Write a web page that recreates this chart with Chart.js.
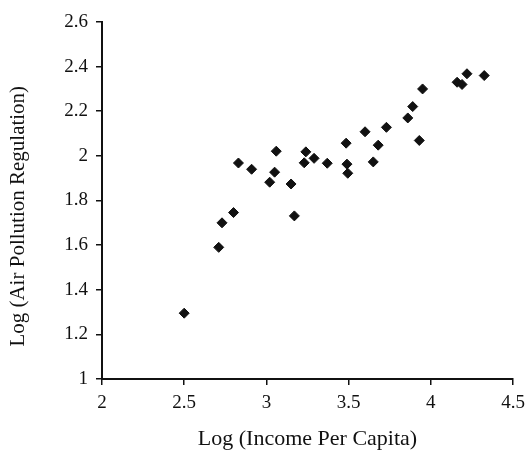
<!DOCTYPE html>
<html>
<head>
<meta charset="utf-8">
<script src="https://cdn.jsdelivr.net/npm/chart.js@4"></script>
<style>
  body { margin: 0; background: #fff; }
  canvas { display: block; }
</style>
</head>
<body>
<canvas id="chart" width="528" height="450"></canvas>
<script>
// log income per capita
const income = [2.50, 2.71, 2.73, 2.80, 2.83, 2.91, 3.02, 3.05, 3.06, 3.15,
  3.17, 3.23, 3.24, 3.29, 3.37, 3.485, 3.49, 3.495, 3.60, 3.65,
  3.68, 3.73, 3.86, 3.89, 3.93, 3.95, 4.16, 4.19, 4.22, 4.325];
// log air pollution regulation
const regulation = [1.295, 1.59, 1.70, 1.746, 1.968, 1.94, 1.882, 1.927, 2.021, 1.874,
  1.731, 1.969, 2.018, 1.989, 1.967, 2.057, 1.963, 1.922, 2.108, 1.973,
  2.048, 2.128, 2.17, 2.221, 2.069, 2.30, 2.33, 2.32, 2.368, 2.36];

const xTicks = [2, 2.5, 3, 3.5, 4, 4.5];
const yTicks = [1, 1.2, 1.4, 1.6, 1.8, 2, 2.2, 2.4, 2.6];

const ink = "#111";
const serif = "'Liberation Serif', 'Times New Roman', serif";

const points = income.map((x, i) => ({ x: x, y: regulation[i] }));

new Chart(document.getElementById("chart").getContext("2d"), {
  type: "scatter",
  data: {
    datasets: [{
      data: points,
      pointStyle: "rectRot",
      pointRadius: 5,
      backgroundColor: ink,
      borderColor: ink,
      borderWidth: 1
    }]
  },
  options: {
    responsive: false,
    animation: false,
    layout: { padding: { top: 22, right: 15, left: 0, bottom: 0 } },
    plugins: { legend: { display: false }, tooltip: { enabled: false } },
    scales: {
      x: {
        min: 2, max: 4.5,
        afterBuildTicks: s => { s.ticks = xTicks.map(v => ({ value: v })); },
        afterFit: s => { s.height = 450 - 379; s.paddingRight = 0; },
        grid: { drawOnChartArea: false, drawTicks: true, tickLength: 6, tickColor: ink, lineWidth: 1.5 },
        border: { color: ink, width: 2 },
        ticks: { color: ink, font: { family: serif, size: 19 }, padding: 7, maxRotation: 0,
          callback: v => String(v) },
        title: { display: true, text: "Log (Income Per Capita)", color: ink,
          font: { family: serif, size: 22, lineHeight: 1 }, padding: { top: 0, bottom: 0 } }
      },
      y: {
        min: 1, max: 2.6,
        afterBuildTicks: s => { s.ticks = yTicks.map(v => ({ value: v })); },
        afterFit: s => { s.width = 102; },
        grid: { drawOnChartArea: false, drawTicks: true, tickLength: 6, tickColor: ink, lineWidth: 1.5 },
        border: { color: ink, width: 2 },
        ticks: { color: ink, font: { family: serif, size: 19 }, padding: 8,
          callback: v => String(v) },
        title: { display: true, text: "Log (Air Pollution Regulation)".padEnd(36, " "), color: ink,
          font: { family: serif, size: 21, lineHeight: 1 }, padding: { top: 8, bottom: 0 } }
      }
    }
  }
});
</script>
</body>
</html>
